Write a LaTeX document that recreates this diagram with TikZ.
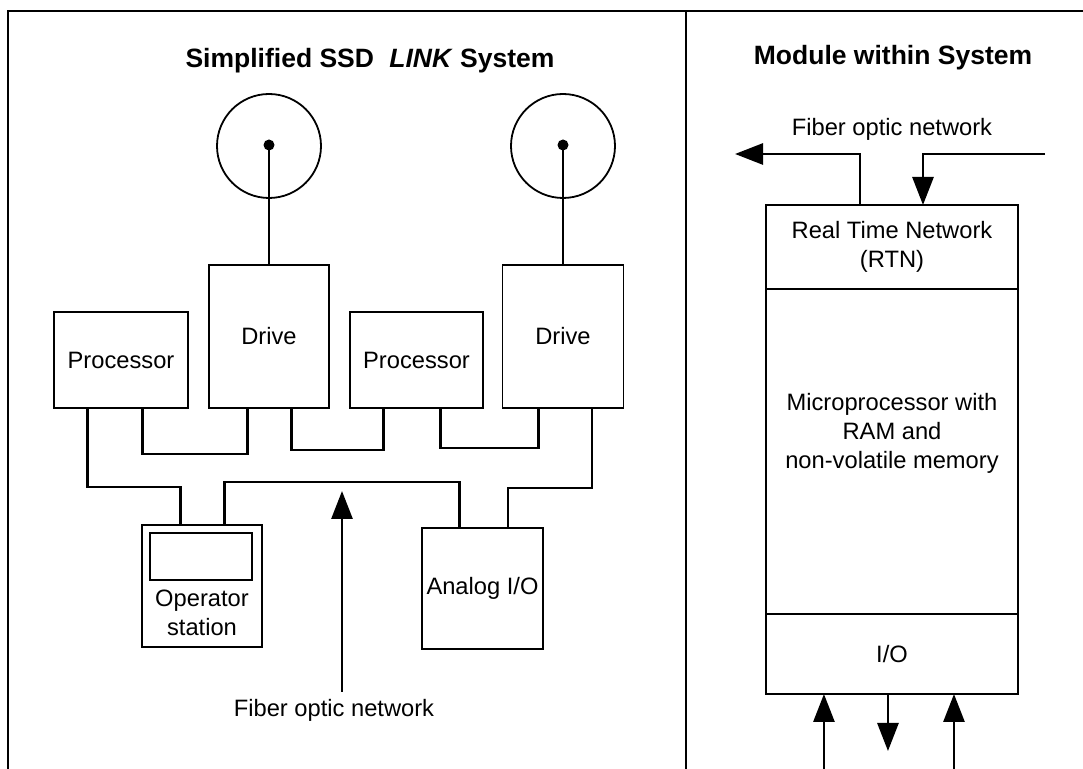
\documentclass[tikz,border=0pt]{standalone}
\usepackage{fontspec}
\setmainfont{Liberation Sans}
\usepackage{tikz}
\usetikzlibrary{positioning,calc,arrows.meta}

\begin{document}
\begin{tikzpicture}[x=0.5pt, y=-0.5pt,
    box/.style={draw, rectangle, line width=0.9pt, inner sep=0pt, outer sep=0pt, font=\fontsize{11.85}{14.5}\selectfont, align=center},
    link/.style={line width=1.4pt},
    lbl/.style={font=\fontsize{11.85}{14.5}\selectfont, align=center},
    head/.style={font=\fontsize{13.25}{16}\selectfont\bfseries},
    tip/.style={-{Triangle[length=14pt, width=10.5pt]}}]
    \useasboundingbox (0,0) rectangle (1083,769);

    % frame
    \draw[line width=1.2pt] (8,769) |- (1083,11);
    \draw[line width=1.4pt] (686,11) -- (686,769);

    % left panel
    \node[head] (systitle) at (370,61) {Simplified SSD\hspace{0.3em} \textit{LINK} System};
    \node[draw, circle, line width=0.9pt, minimum size=52pt, inner sep=0pt] (disk1) at (269,146) {};
    \node[draw, circle, line width=0.9pt, minimum size=52pt, inner sep=0pt] (disk2) at (563,146) {};
    \node[fill, circle, minimum size=5.5pt, inner sep=0pt] (hub1) at (269,145) {};
    \node[fill, circle, minimum size=5.5pt, inner sep=0pt] (hub2) at (563,145) {};

    \node[box, minimum width=67pt, minimum height=48pt] (proc1) at (121,360) {Processor};
    \node[box, minimum width=60pt, minimum height=71.5pt] (drive1) at (269,336.5) {Drive};
    \node[box, minimum width=66.5pt, minimum height=48pt] (proc2) at (416.5,360) {Processor};
    \node[box, minimum width=60.5pt, minimum height=71.5pt] (drive2) at (563,336.5) {Drive};
    \node[box, minimum width=60pt, minimum height=61pt] (op) at (202,586) {};
    \node[box, minimum width=51pt, minimum height=23.5pt] (screen) at (201,556.5) {};
    \node[lbl] (oplbl) at (202,612.5) {Operator\\station};
    \node[box, minimum width=60.5pt, minimum height=60.5pt] (analog) at (482.5,588.5) {Analog I/O};

    \draw[link] (hub1.center) -- (drive1.north);
    \draw[link] (hub2.center) -- (drive2.north);

    \draw[link] ($(proc1.south west)!.25!(proc1.south east)$) -- ++(0,79) -| ($(op.north west)!.32!(op.north east)$);
    \draw[link] ($(proc1.south west)!.66!(proc1.south east)$) -- ++(0,46) -| ($(drive1.south west)!.32!(drive1.south east)$);
    \draw[link] ($(drive1.south west)!.69!(drive1.south east)$) -- ++(0,42) -| ($(proc2.south west)!.25!(proc2.south east)$);
    \draw[link] ($(proc2.south west)!.68!(proc2.south east)$) -- ++(0,40) -| ($(drive2.south west)!.30!(drive2.south east)$);
    \draw[link] ($(drive2.south west)!.74!(drive2.south east)$) -- ++(0,80) -| ($(analog.north west)!.71!(analog.north east)$);
    \draw[link] ($(op.north west)!.69!(op.north east)$) -- ++(0,-43) -| ($(analog.north west)!.31!(analog.north east)$);

    \node[lbl] (fiblbl) at (334,710) {Fiber optic network};
    \coordinate (fibtip) at (342,491);
    \draw[link, tip] (fibtip |- fiblbl.north) -- (fibtip);

    % right panel
    \node[head] (modtitle) at (893,58) {Module within System};
    \node[lbl] (netlbl) at (892,129) {Fiber optic network};
    \node[box, minimum width=126pt, minimum height=42pt] (rtn) at (892,247) {Real Time Network\\(RTN)};
    \node[box, minimum width=126pt, minimum height=162.5pt, below=0pt of rtn] (cpu) {};
    \node[box, minimum width=126pt, minimum height=40pt, below=0pt of cpu] (io) {I/O};
    \node[lbl] (cpulbl) at (892,433) {Microprocessor with\\RAM and\\non-volatile memory};

    \coordinate (outend) at (735,154);
    \coordinate (inend) at (1045,154);
    \draw[link, tip] ($(rtn.north west)!.373!(rtn.north east)$) |- (outend);
    \draw[link, tip] (inend) -| ($(rtn.north west)!.623!(rtn.north east)$);

    \draw[link, tip] ($(io.south west)!.23!(io.south east)+(0,75)$) -- ($(io.south west)!.23!(io.south east)$);
    \draw[link, tip] ($(io.south west)!.484!(io.south east)$) -- ++(0,57);
    \draw[link, tip] ($(io.south west)!.746!(io.south east)+(0,75)$) -- ($(io.south west)!.746!(io.south east)$);
\end{tikzpicture}
\end{document}
